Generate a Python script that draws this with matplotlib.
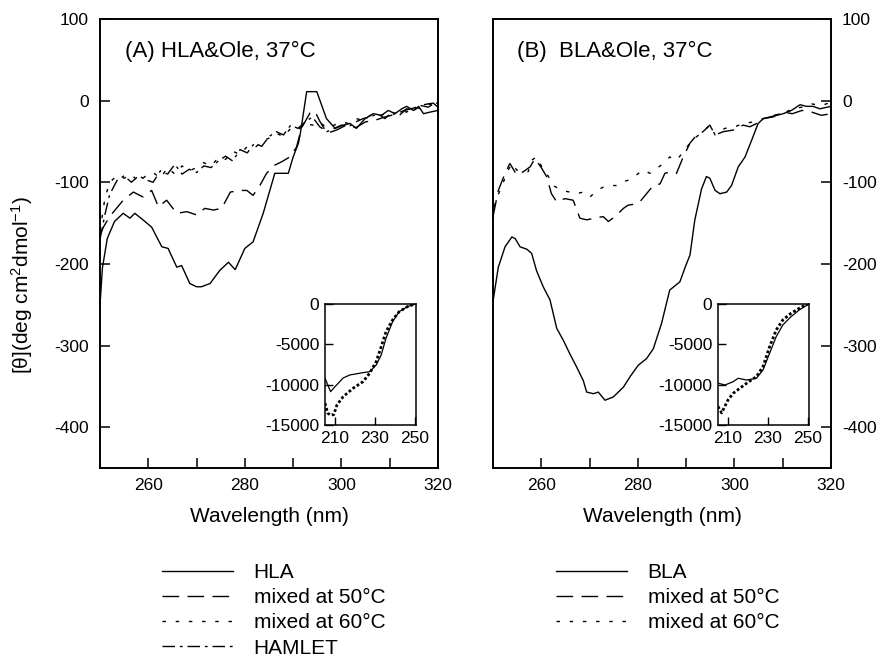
import matplotlib
matplotlib.use("Agg")
import matplotlib.pyplot as plt
from matplotlib.lines import Line2D

plt.rcParams['font.family'] = ['Liberation Sans', 'DejaVu Sans']
plt.rcParams['mathtext.default'] = 'regular'
plt.rcParams['axes.unicode_minus'] = False

# ---------------- data: panel A (HLA & oleic acid) ----------------
hla_x = [250, 250.5, 251.5, 253, 254.8, 256.2, 257.2, 258.9, 260.7, 262.8, 264.1, 265.9, 266.9,
         268.6, 270, 271, 272.8, 274.8, 276.6, 278, 280, 281.7, 283.8, 286.2, 287.6, 289, 290,
         291.1, 291.5, 292.8, 294.9, 296.9, 298.7, 300.4, 301.8, 303.1, 304.9, 306.6, 308.3,
         309.7, 311.1, 312.5, 313.5, 314.9, 316, 317, 318.4, 320]
hla_y = [-250, -205, -169, -148, -138, -144, -138, -146, -155, -179, -181, -204, -202,
         -224, -228, -228, -224, -208, -198, -207, -181, -173, -138, -89, -89, -89, -69,
         -52, -40, 11, 11, -22, -34, -30, -28, -34, -22, -16, -18,
         -12, -16, -10, -7, -12, -7, -16, -14, -12]

hla50_x = [250, 250.7, 252, 254.8, 256.9, 258.9, 260.7, 262.1, 263.8, 265.9, 268, 270, 271.7,
           273.5, 275.2, 277, 279, 280.4, 281.7, 283.1, 284.5, 286.2, 287.6, 289.3, 290.7,
           291.7, 293.5, 294.5, 295.5, 297, 299, 301, 303, 305, 307, 309, 311, 313, 315, 317, 319, 320]
hla50_y = [-165, -155, -142, -122, -112, -118, -110, -130, -122, -138, -136, -140, -132,
           -134, -132, -112, -110, -110, -116, -104, -89, -79, -75, -69, -57,
           -34, -15, -13, -25, -40, -36, -30, -33, -26, -24, -20, -17, -12, -9, -5, -3, -8]

hla60_x = [250, 251, 252, 253.5, 255, 256.5, 258, 259.5, 261, 262.5, 264, 265.5, 267, 268.5,
           270, 271.5, 273, 274.5, 276, 277.5, 279, 280.5, 282, 283.5, 285, 286.5, 288, 289.5,
           291, 292.5, 294, 295.5, 297, 298.5, 300, 301.5, 303, 304.5, 306, 307.5, 309, 310.5,
           312, 313.5, 315, 316.5, 318, 319.5, 320]
hla60_y = [-160, -120, -100, -92, -95, -90, -100, -92, -88, -95, -82, -90, -80, -86,
           -82, -76, -80, -70, -72, -62, -66, -56, -58, -50, -46, -40, -44, -34,
           -36, -28, -30, -26, -34, -30, -26, -28, -22, -24, -18, -20, -16, -18,
           -12, -14, -8, -10, -4, -6, -2]

hamlet_x = hla60_x
hamlet_y = [-170, -140, -115, -98, -92, -100, -92, -97, -100, -86, -90, -78, -90, -84,
            -88, -80, -82, -74, -68, -74, -60, -64, -52, -56, -44, -38, -42, -30,
            -34, -26, -20, -32, -38, -34, -30, -32, -26, -22, -20, -16, -22, -14,
            -18, -10, -12, -6, -8, -2, -4]

# inset A (far-UV)
insA_x = [205, 207.8, 210, 214.1, 217.4, 224, 227.3, 230.6, 233.1, 235.5, 238.8, 242.1, 246.2, 250]
insA_hla = [-9200, -10870, -10250, -9170, -8800, -8510, -8400, -7560, -6320, -4250, -2190, -950, -330, 0]
insA_mx = [205, 206.3, 207.8, 209.4, 211, 214.1, 219, 224, 227.3, 230.6, 233.1, 235.5, 238.8, 242.1, 246.2, 250]
insA_mix = [-12300, -13500, -13800, -13700, -12500, -11490, -10450, -9630, -8590, -7150, -5290, -3430, -1980, -950, -330, 0]

# ---------------- data: panel B (BLA & oleic acid) ----------------
bla_x = [250, 251.1, 252.5, 253.9, 254.6, 255.6, 257, 258, 259, 260.4, 261.8, 263.2, 264.6,
         265.9, 267.3, 268.7, 269.4, 270.8, 271.8, 273.2, 274.9, 277, 278.4, 280.1, 281.8,
         283.2, 284.9, 286.6, 288.7, 289.8, 290.8, 291.8, 293.2, 294.2, 294.9, 296, 297,
         298.4, 299.4, 300.8, 302.2, 303.6, 304.9, 306, 307.3, 308.7, 310.1, 311.8, 313.6,
         314.9, 316.3, 317.7, 320]
bla_y = [-246, -204, -179, -167, -169, -179, -182, -187, -208, -228, -244, -279, -294,
         -310, -326, -343, -357, -359, -357, -367, -363, -351, -338, -324, -316,
         -304, -273, -232, -222, -204, -189, -146, -108, -93, -95, -110, -114,
         -112, -104, -81, -69, -48, -28, -22, -20, -18, -16, -12, -5,
         -7, -7, -10, -7]

bla50_x = [250, 251.1, 252.5, 253.5, 254.9, 256.3, 257.7, 258.7, 260.1, 261.1, 262.1, 263.2,
           264.9, 266.6, 268, 269.4, 271.1, 272.8, 273.9, 275.3, 277, 278, 279.1, 280.4, 281.8,
           283.2, 284.6, 285.6, 287, 288, 289.4, 290.8, 292.2, 293.5, 294.9, 296, 297.7, 299.8,
           301.8, 303.2, 304.6, 306, 308, 310, 312, 314, 316, 318, 320]
bla50_y = [-142, -110, -89, -77, -91, -87, -81, -71, -83, -93, -114, -124,
           -120, -122, -144, -146, -144, -142, -148, -142, -132, -128, -127, -124, -114,
           -104, -102, -89, -87, -89, -69, -52, -42, -38, -30, -42, -38, -36,
           -30, -32, -28, -22, -20, -14, -16, -12, -14, -18, -16]

bla60_x = [250, 250.5, 251.8, 252.8, 253.9, 254.9, 255.9, 257.3, 258, 259, 260.1, 261.1, 262.5,
           264.2, 265.9, 267.3, 268.7, 270.1, 271.5, 272.8, 274.2, 275.6, 277, 278.4, 279.7,
           281.1, 282.5, 283.9, 285.3, 286.6, 288, 289.4, 290.8, 292.2, 293.5, 294.9, 296,
           298, 300, 302, 304, 306, 308, 310, 312, 314, 316, 318, 320]
bla60_y = [-146, -122, -106, -89, -77, -85, -87, -87, -73, -69, -81, -89, -104,
           -110, -112, -114, -112, -118, -110, -106, -104, -104, -99, -97, -91,
           -85, -89, -83, -77, -69, -73, -63, -52, -44, -38, -30, -42,
           -34, -32, -28, -26, -22, -18, -16, -10, -8, -4, -6, -2]

# inset B (far-UV)
insB_x = [205.2, 208.5, 212.6, 215.1, 219.3, 224.2, 227.5, 230.8, 234.1, 237.4, 241.5, 245.6, 249.7]
insB_bla = [-9830, -10040, -9630, -9210, -9420, -9210, -8180, -6110, -4050, -2600, -1570, -740, -120]
insB_mx = [205, 206.8, 210, 212.6, 215.9, 219.3, 224.2, 227.5, 230.8, 234.1, 237.4, 241.5, 245.6, 249.7]
insB_mix = [-12700, -13500, -11900, -11070, -10450, -9830, -9000, -7770, -5290, -3220, -1980, -1150, -530, 0]

main_yticks = [100, 0, -100, -200, -300, -400]
main_xticks = [260, 280, 300, 320]
inset_yticks = [0, -5000, -10000, -15000]
inset_xticks = [210, 230, 250]

legendA = ['HLA', 'mixed at 50°C', 'mixed at 60°C', 'HAMLET']
legendB = ['BLA', 'mixed at 50°C', 'mixed at 60°C']

# ---------------- styles ----------------
LW = 1.0
st_solid = dict(color='black', lw=LW, linestyle='-')
st_50 = dict(color='black', lw=LW, linestyle=(0, (12, 6)))
st_60 = dict(color='black', lw=LW, linestyle=(0, (2.5, 7)))
st_ham = dict(color='black', lw=LW, linestyle=(0, (9, 3.5, 2, 3.5)))

W, H = 884, 657
fig = plt.figure(figsize=(W / 100, H / 100), dpi=100)

def fx(px):
    return px / W

def fy(py):
    return 1 - py / H

def style_main(ax, side):
    ax.set_xlim(250, 320)
    ax.set_ylim(-450, 100)
    ax.set_xticks(main_xticks)
    ax.set_xticks([270, 290, 310], minor=True)
    ax.set_yticks(main_yticks)
    ax.tick_params(axis='both', which='both', direction='in', labelsize=12.5,
                   length=7, width=1.1, top=False)
    ax.tick_params(axis='x', which='major', pad=7)
    ax.tick_params(axis='x', which='minor', length=7)
    if side == 'left':
        ax.tick_params(axis='y', left=True, right=False, labelleft=True, labelright=False, pad=8)
    else:
        ax.tick_params(axis='y', left=False, right=True, labelleft=False, labelright=True, pad=8)
    for s in ax.spines.values():
        s.set_linewidth(1.4)
    ax.set_xlabel('Wavelength (nm)', fontsize=15, labelpad=10)

def style_inset(ax):
    ax.set_xlim(205, 250.5)
    ax.set_ylim(-15000, 0)
    ax.set_xticks(inset_xticks)
    ax.set_yticks(inset_yticks)
    ax.tick_params(axis='both', direction='in', labelsize=12.5, length=6, width=1.0, pad=4)
    for s in ax.spines.values():
        s.set_linewidth(1.1)

# panel A
axA = fig.add_axes([fx(100), fy(468), fx(338), 449 / H])
axA.plot(hla_x, hla_y, **st_solid)
axA.plot(hla50_x, hla50_y, **st_50)
axA.plot(hla60_x, hla60_y, **st_60)
axA.plot(hamlet_x, hamlet_y, **st_ham)
style_main(axA, 'left')
axA.text(0.074, 0.927, '(A) HLA&Ole, 37°C', transform=axA.transAxes, fontsize=16,
         ha='left', va='center')

# panel B
axB = fig.add_axes([fx(493), fy(468), fx(338), 449 / H])
axB.plot(bla_x, bla_y, **st_solid)
axB.plot(bla50_x, bla50_y, **st_50)
axB.plot(bla60_x, bla60_y, **st_60)
style_main(axB, 'right')
axB.text(0.071, 0.927, '(B)  BLA&Ole, 37°C', transform=axB.transAxes, fontsize=16,
         ha='left', va='center')

# insets
insA = fig.add_axes([fx(325), fy(425), fx(91), 121 / H])
insA.plot(insA_x, insA_hla, color='black', lw=0.9)
insA.plot(insA_mx, insA_mix, color='black', lw=2.0, linestyle=(0, (1, 0.8)))
style_inset(insA)

insB = fig.add_axes([fx(718), fy(425), fx(91), 121 / H])
insB.plot(insB_x, insB_bla, color='black', lw=0.9)
insB.plot(insB_mx, insB_mix, color='black', lw=2.0, linestyle=(0, (1, 0.8)))
style_inset(insB)

# y label
fig.text(fx(22), fy(285), '[θ](deg cm$^{2}$dmol$^{-1}$)', rotation=90,
         ha='center', va='center', fontsize=15)

# legends
hA = [Line2D([], [], **st_solid), Line2D([], [], **st_50),
      Line2D([], [], **st_60), Line2D([], [], **st_ham)]
hB = [Line2D([], [], **st_solid), Line2D([], [], **st_50), Line2D([], [], **st_60)]
fig.legend(hA, legendA, loc='upper left', bbox_to_anchor=(fx(162), fy(563)),
           frameon=False, fontsize=15, handlelength=3.4, handletextpad=1.0,
           labelspacing=0.3, borderpad=0, borderaxespad=0)
fig.legend(hB, legendB, loc='upper left', bbox_to_anchor=(fx(556), fy(563)),
           frameon=False, fontsize=15, handlelength=3.4, handletextpad=1.0,
           labelspacing=0.3, borderpad=0, borderaxespad=0)

fig.savefig('out.png', dpi=100)
